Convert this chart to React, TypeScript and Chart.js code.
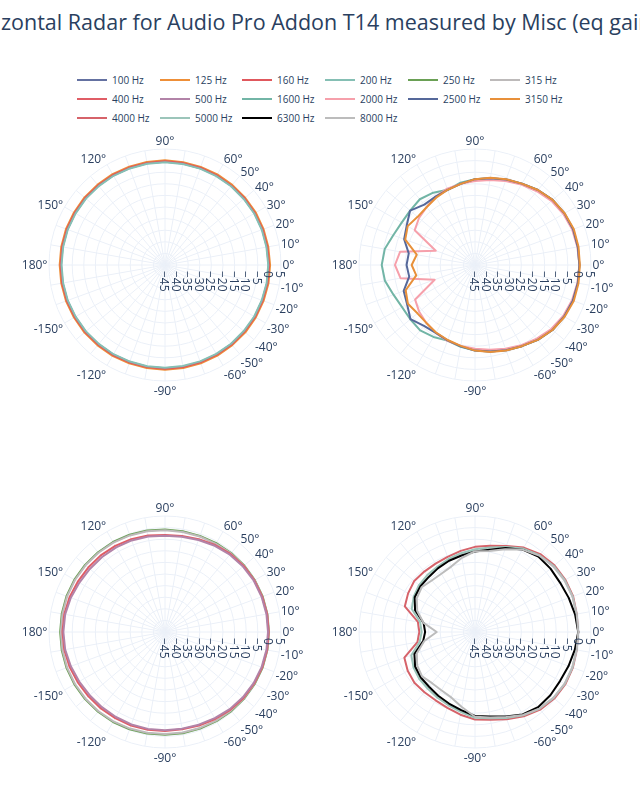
import React, { useEffect, useRef } from 'react';
import { Chart, registerables } from 'chart.js';

Chart.register(...registerables);

const TITLE = 'Horizontal Radar for Audio Pro Addon T14 measured by Misc (eq gain)';

// measurement angles (degrees), in data order
const ANGLES = [0, 10, 20, 30, 40, 50, 60, 70, 80, 90, 100, 110, 120, 130, 140, 150, 160, 170, 180,
  -170, -160, -150, -140, -130, -120, -110, -100, -90, -80, -70, -60, -50, -40, -30, -20, -10];
// angular tick labels shown
const ANGLE_TICKS = [0, 10, 20, 30, 40, 50, 60, 90, 120, 150, 180, -150, -120, -90, -60, -50, -40, -30, -20, -10];
// radial axis (dB)
const R_MIN = -45;
const R_MAX = 5;
const R_STEP = 5;

// SPL (dB) per angle, same order as ANGLES
const F100 = [-0.3, -0.4, -0.4, -0.4, -0.5, -0.5, -0.5, -0.6, -0.6, -0.5, -0.5, -0.5, -0.4, -0.4, -0.3, -0.3, -0.2, -0.2, -0.2,
  -0.2, -0.2, -0.3, -0.3, -0.4, -0.4, -0.5, -0.5, -0.5, -0.5, -0.5, -0.5, -0.5, -0.4, -0.4, -0.4, -0.3];
const F125 = [0.3, 0.2, 0.2, 0.2, 0.1, 0.1, 0.1, 0, 0, 0.1, 0.1, 0.1, 0.2, 0.2, 0.3, 0.3, 0.4, 0.4, 0.4,
  0.4, 0.4, 0.3, 0.3, 0.2, 0.2, 0.1, 0.1, 0.1, 0.1, 0.1, 0.1, 0.1, 0.2, 0.2, 0.2, 0.3];
const F160 = [-0.1, -0.2, -0.2, -0.3, -0.3, -0.4, -0.4, -0.4, -0.4, -0.3, -0.3, -0.3, -0.2, -0.2, -0.1, -0.1, 0, 0, 0,
  0, 0, -0.1, -0.1, -0.2, -0.2, -0.3, -0.3, -0.3, -0.3, -0.4, -0.4, -0.3, -0.3, -0.2, -0.2, -0.1];
const F200 = [-0.5, -0.6, -0.6, -0.6, -0.7, -0.7, -0.8, -0.8, -0.8, -0.7, -0.7, -0.7, -0.6, -0.6, -0.5, -0.5, -0.4, -0.4, -0.4,
  -0.4, -0.4, -0.5, -0.5, -0.6, -0.6, -0.7, -0.7, -0.7, -0.8, -0.8, -0.8, -0.7, -0.7, -0.6, -0.6, -0.5];
const F250 = [-0.2, -0.2, -0.2, -0.3, -0.4, -0.6, -0.8, -0.9, -0.9, -0.8, -0.6, -0.4, -0.2, -0.1, 0, 0.1, 0.2, 0.2, 0.2,
  0.2, 0.2, 0.1, 0, -0.1, -0.2, -0.4, -0.6, -0.7, -0.7, -0.7, -0.6, -0.5, -0.4, -0.3, -0.2, -0.2];
const F315 = [-0.3, -0.3, -0.4, -0.4, -0.6, -0.8, -1.1, -1.2, -1.2, -1.1, -0.9, -0.7, -0.5, -0.4, -0.3, -0.2, -0.1, -0.1, -0.1,
  -0.1, -0.1, -0.2, -0.3, -0.4, -0.5, -0.7, -0.9, -1.0, -1.0, -1.0, -0.9, -0.8, -0.6, -0.5, -0.4, -0.3];
const F400 = [-0.3, -0.3, -0.4, -0.5, -0.7, -1.1, -1.7, -2.4, -3.0, -3.2, -2.8, -2.4, -2.1, -1.9, -1.8, -1.6, -1.2, -0.9, -0.8,
  -0.9, -1.2, -1.6, -1.9, -2.0, -2.1, -2.1, -2.2, -2.3, -2.4, -2.1, -1.7, -1.2, -0.8, -0.6, -0.4, -0.3];
const F500 = [-0.6, -0.6, -0.7, -0.8, -1.1, -1.5, -2.1, -2.8, -3.3, -3.5, -3.2, -3.0, -2.9, -2.8, -2.7, -2.4, -1.8, -1.3, -1.2,
  -1.3, -1.8, -2.3, -2.6, -2.7, -2.7, -2.6, -2.6, -2.6, -2.7, -2.5, -2.1, -1.6, -1.2, -0.9, -0.7, -0.6];
const F1600 = [0, 0, 0, -0.5, -1.3, -2.8, -4.5, -5.8, -7, -8, -9, -10.5, -9, -8, -8.5, -8.5, -7.5, -5.5, -4.8,
  -5.6, -7.6, -8.7, -8.6, -8.2, -9.2, -10.3, -9.2, -8.1, -7.1, -5.9, -4.6, -2.9, -1.4, -0.6, -0.1, 0];
const F2000 = [0, -0.2, -0.4, -1, -2, -3.5, -5, -6.5, -7.8, -8.8, -9.5, -10, -11, -12.5, -13.5, -15, -27, -12.2, -10.5,
  -12.4, -26.5, -15.2, -13.6, -12.4, -11.2, -10.2, -9.6, -8.9, -7.9, -6.6, -5.1, -3.6, -2.1, -1.1, -0.5, -0.2];
const F2500 = [0, 0, 0, -0.5, -1.3, -2.8, -4.5, -5.8, -7, -8, -9.5, -10.5, -11, -11, -8.5, -11, -12.5, -16, -15.5,
  -16.2, -12.3, -11.2, -8.7, -10.8, -11.2, -10.4, -9.4, -8.1, -7.1, -5.9, -4.6, -2.9, -1.4, -0.6, -0.1, 0];
const F3150 = [0.2, 0.3, 0.3, -0.4, -1.3, -2.8, -4.5, -5.7, -6.8, -8, -9.5, -10.5, -11.5, -12.5, -12.7, -11.5, -13, -19.5, -17.7,
  -19.3, -13.2, -11.6, -12.6, -12.4, -11.4, -10.6, -9.6, -8.1, -6.9, -5.8, -4.6, -2.9, -1.4, -0.4, 0.3, 0.3];
const F4000 = [-0.5, -0.5, 0, 0, -0.3, -1.2, -3, -5.5, -7.3, -8.3, -9.5, -10.5, -11, -11, -10.8, -11.7, -12.8, -20, -21,
  -19.8, -12.6, -11.5, -10.9, -11.1, -11.0, -10.2, -8.8, -7.3, -6.6, -5.0, -3.0, -1.3, -0.4, 0, -0.1, -0.5];
const F5000 = [-0.5, -0.6, -0.2, -0.3, -0.7, -1.8, -3.5, -6, -8, -9.3, -10.5, -11.5, -12.5, -13, -13.5, -14.5, -16, -21, -22,
  -20.8, -15.8, -14.4, -13.6, -13.2, -12.4, -11.4, -10.0, -8.0, -7.2, -5.6, -3.5, -1.8, -0.8, -0.3, -0.3, -0.6];
const F6300 = [-0.5, -1.2, -2, -2.6, -2.5, -2.5, -4, -6.5, -9, -10.3, -11.5, -12.3, -13.2, -14, -14.3, -15, -17.5, -22.5, -23.5,
  -22.3, -17.2, -15.2, -14.5, -14.2, -13.3, -12.2, -10.8, -8.8, -8.0, -6.2, -4.0, -2.7, -2.6, -2.7, -2.1, -1.3];
const F8000 = [-0.5, -0.5, -0.3, -0.5, -1, -2, -4, -7, -9.5, -10.2, -12.5, -15, -16, -16, -15, -16, -18.5, -22.5, -28.5,
  -22.8, -18.3, -16.2, -15.2, -16.2, -16.0, -15.0, -12.2, -8.5, -7.6, -6.0, -3.7, -1.9, -0.9, -0.4, -0.4, -0.5];

const SERIES_NAMES = ['100 Hz', '125 Hz', '160 Hz', '200 Hz', '250 Hz', '315 Hz', '400 Hz', '500 Hz',
  '1600 Hz', '2000 Hz', '2500 Hz', '3150 Hz', '4000 Hz', '5000 Hz', '6300 Hz', '8000 Hz'];
const SERIES_VALUES = [F100, F125, F160, F200, F250, F315, F400, F500,
  F1600, F2000, F2500, F3150, F4000, F5000, F6300, F8000];
const SERIES_COLORS = ['#6471a1', '#ee8f38', '#e0585d', '#85bfb4', '#6aa055', '#bdbaba', '#e05d66', '#b283a8',
  '#72b5a6', '#f6a0ab', '#55689a', '#e8903a', '#d6636a', '#9cc5ba', '#000000', '#bcbcbc'];

// which series go into each polar subplot
const PANEL_SERIES = [[0, 1, 2, 3], [8, 9, 10, 11], [4, 5, 6, 7], [12, 13, 14, 15]];
const PANEL_CENTERS = [[165, 265], [475, 265], [165, 632], [475, 632]];

const CANVAS = 300;
const RADIUS = 116;
const FONT = '"Open Sans", Verdana, Arial, sans-serif';
const TEXT_COLOR = '#2a3f5f';
const GRID_COLOR = '#ebf0f8';

const norm = (a: number) => {
  let x = ((a % 360) + 360) % 360;
  if (x > 180) x -= 360;
  return x;
};
// chart.js radar goes clockwise; index i sits at angle -10*i (0 deg at the right)
const CHART_ANGLES = ANGLES.map((_, i) => norm(-10 * i));

const labelPlugin = {
  id: 'polarLabels',
  afterDraw(chart: any) {
    const scale = chart.scales.r;
    const ctx = chart.ctx as CanvasRenderingContext2D;
    const cx = scale.xCenter;
    const cy = scale.yCenter;
    const R = scale.drawingArea;
    const fs = 12;
    const pad = 1.5;
    ctx.save();
    ctx.font = `${fs}px ${FONT}`;
    ctx.fillStyle = TEXT_COLOR;
    // angular labels
    ANGLE_TICKS.forEach((a) => {
      const idx = CHART_ANGLES.indexOf(a);
      const p = scale.getPointPosition(idx, R + pad);
      const rad = (a * Math.PI) / 180;
      const c = Math.cos(rad);
      const s = Math.sin(rad);
      const ff = s > 0 ? 0.2 : 1;
      const y = p.y - s * fs * ff + Math.abs(c) * fs * 0.35;
      ctx.textAlign = Math.abs(c) < 0.1 ? 'center' : c > 0 ? 'left' : 'right';
      ctx.textBaseline = 'alphabetic';
      ctx.fillText(`${a}°`, p.x, y);
    });
    // radial labels along the 0 deg axis, rotated
    scale.ticks.forEach((t: any) => {
      const d = scale.getDistanceFromCenterForValue(t.value);
      const txt = t.value < 0 ? `\u2212${Math.abs(t.value)}` : `${t.value}`;
      ctx.save();
      ctx.translate(cx + d - 1.5, cy + 6);
      ctx.rotate(Math.PI / 2);
      ctx.textAlign = 'left';
      ctx.textBaseline = 'middle';
      ctx.fillText(txt, 0, 0);
      ctx.restore();
    });
    ctx.restore();
  },
};

function Polar({ series, center }: { series: number[]; center: number[] }) {
  const ref = useRef<HTMLCanvasElement | null>(null);
  useEffect(() => {
    if (!ref.current) return;
    const padding = (CANVAS - 2 * RADIUS) / 2;
    const chart = new Chart(ref.current, {
      type: 'radar',
      data: {
        labels: CHART_ANGLES.map((a) => `${a}°`),
        datasets: series.map((si, k) => ({
          label: SERIES_NAMES[si],
          data: CHART_ANGLES.map((a) => SERIES_VALUES[si][ANGLES.indexOf(a)]),
          borderColor: SERIES_COLORS[si],
          backgroundColor: 'rgba(0,0,0,0)',
          borderWidth: 2,
          pointRadius: 0,
          pointHoverRadius: 0,
          pointHitRadius: 0,
          fill: false,
          tension: 0,
          borderJoinStyle: 'round',
          order: series.length - k,
        })),
      },
      options: {
        responsive: false,
        animation: false,
        events: [],
        layout: { padding },
        plugins: {
          legend: { display: false },
          title: { display: false },
          tooltip: { enabled: false },
        },
        scales: {
          r: {
            min: R_MIN,
            max: R_MAX,
            startAngle: 90,
            ticks: { display: false, stepSize: R_STEP },
            grid: { circular: true, color: GRID_COLOR, lineWidth: 1 },
            angleLines: { display: true, color: GRID_COLOR, lineWidth: 1 },
            pointLabels: { display: false },
          },
        },
      } as any,
      plugins: [labelPlugin],
    });
    return () => chart.destroy();
  }, [series, center]);
  return (
    <canvas
      ref={ref}
      width={CANVAS}
      height={CANVAS}
      style={{
        position: 'absolute',
        left: center[0] - CANVAS / 2,
        top: center[1] - CANVAS / 2,
        width: CANVAS,
        height: CANVAS,
      }}
    />
  );
}

const LEGEND_COLS = [77, 160, 242, 325, 408, 490];
const LEGEND_ROWS = [80, 99, 118];

export default function App() {
  return (
    <div
      style={{
        position: 'absolute',
        left: 0,
        top: 0,
        width: 640,
        height: 800,
        background: '#ffffff',
        overflow: 'hidden',
        fontFamily: FONT,
      }}
    >
      <div
        style={{
          position: 'absolute',
          left: 0,
          top: 8,
          width: 640,
          height: 30,
          overflow: 'hidden',
        }}
      >
        <span
          style={{
            position: 'absolute',
            left: -42,
            top: 0,
            whiteSpace: 'nowrap',
            fontSize: 21.5,
            lineHeight: '28px',
            color: TEXT_COLOR,
          }}
        >
          {TITLE}
        </span>
      </div>
      {SERIES_NAMES.map((name, i) => {
        const x = LEGEND_COLS[i % 6];
        const y = LEGEND_ROWS[Math.floor(i / 6)];
        return (
          <React.Fragment key={name}>
            <div
              style={{
                position: 'absolute',
                left: x,
                top: y - 1,
                width: 30,
                height: 2,
                background: SERIES_COLORS[i],
              }}
            />
            <div
              style={{
                position: 'absolute',
                left: x + 35,
                top: y - 7,
                fontSize: 10,
                lineHeight: '14px',
                color: TEXT_COLOR,
                whiteSpace: 'nowrap',
              }}
            >
              {name}
            </div>
          </React.Fragment>
        );
      })}
      {PANEL_SERIES.map((s, i) => (
        <Polar key={i} series={s} center={PANEL_CENTERS[i]} />
      ))}
    </div>
  );
}
